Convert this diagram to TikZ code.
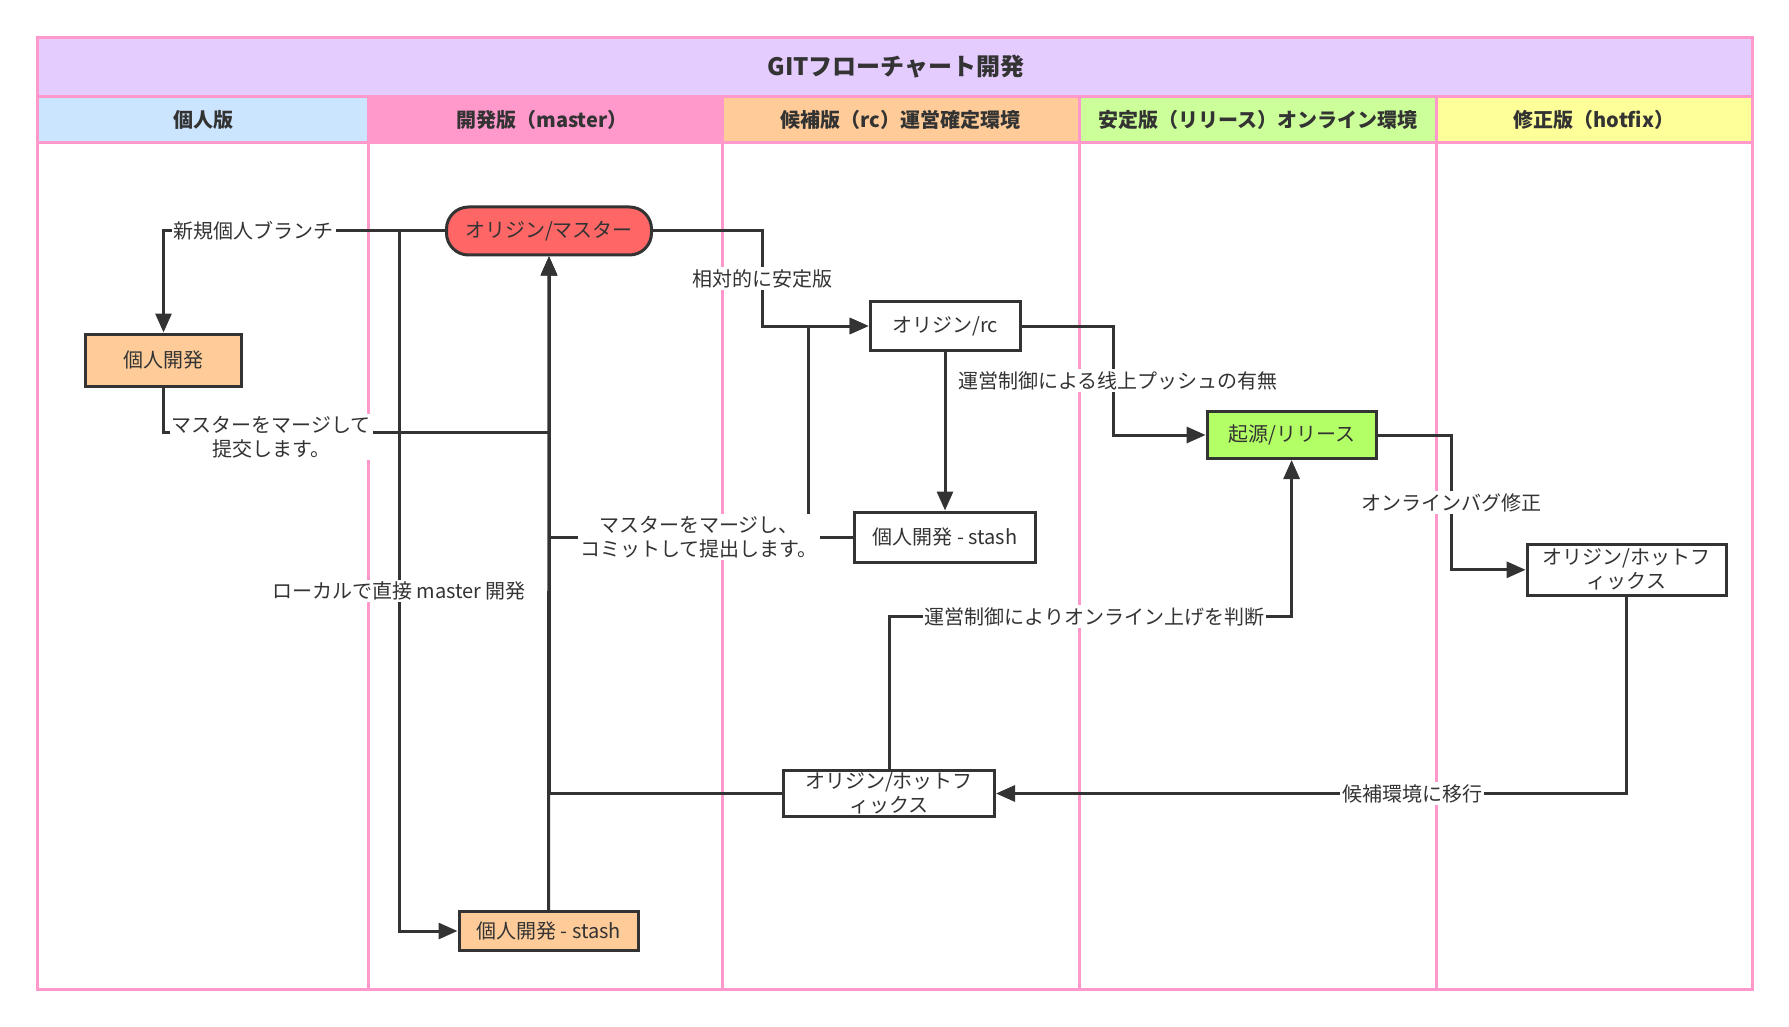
\documentclass[tikz,border=0pt]{standalone}
\usepackage{fontspec}
\setmainfont{Noto Sans CJK JP}
\usetikzlibrary{arrows.meta,calc}
\definecolor{ink}{HTML}{333333}
\definecolor{lanepink}{HTML}{FF99CC}
\definecolor{titlefill}{HTML}{E5CCFF}
\definecolor{hA}{HTML}{CCE5FF}
\definecolor{hB}{HTML}{FF99CC}
\definecolor{hC}{HTML}{FFCC99}
\definecolor{hD}{HTML}{CCFF99}
\definecolor{hE}{HTML}{FFFF99}
\definecolor{mred}{HTML}{FF6666}
\definecolor{morange}{HTML}{FFCC99}
\definecolor{mgreen}{HTML}{B3FF66}
\begin{document}
\begin{tikzpicture}[x=1pt,y=-1pt,
  conn/.style={draw=ink, line width=3pt},
  arr/.style={conn, -{Triangle[length=19pt,width=16pt]}},
  box/.style={draw=ink, line width=3pt, text=ink, font=\fontsize{20}{24}\selectfont, align=center, inner sep=0pt},
  lbl/.style={fill=white, text=ink, font=\fontsize{20}{24}\selectfont, align=center, inner sep=2pt},
  hdr/.style={font=\bfseries\fontsize{20}{24}\selectfont, text=ink},
  lane/.style={draw=lanepink, line width=3pt}]
\useasboundingbox (0,0) rectangle (1789,1027);
% lanes
\fill[titlefill] (37.6,37.6) rectangle (1752,96.7);
\fill[hA] (37.6,96.7) rectangle (368.5,143);
\fill[hB] (368.5,96.7) rectangle (722,143);
\fill[hC] (722,96.7) rectangle (1079,143);
\fill[hD] (1079,96.7) rectangle (1436.5,143);
\fill[hE] (1436.5,96.7) rectangle (1752,143);
\draw[lane] (37.6,37.6) rectangle (1752,989);
\draw[lane] (37.6,96.7) -- (1752,96.7);
\draw[lane] (37.6,143) -- (1752,143);
\foreach \xx in {368.5,722,1079,1436.5} \draw[lane] (\xx,96.7) -- (\xx,989);
\node[font=\bfseries\fontsize{24}{28}\selectfont, text=ink] (title) at (896,67) {GITフローチャート開発};
\node[hdr] (hd1) at (203,120) {個人版};
\node[hdr] (hd2) at (542,120) {開発版（master）};
\node[hdr] (hd3) at (900.5,120) {候補版（rc）運営確定環境};
\node[hdr] (hd4) at (1257.75,120) {安定版（リリース）オンライン環境};
\node[hdr] (hd5) at (1594,120) {修正版（hotfix）};
% nodes
\node[box,fill=mred,rounded corners=22pt,minimum width=205pt,minimum height=48pt] (master) at (549,231) {オリジン/マスター};
\node[box,fill=morange,minimum width=156pt,minimum height=52pt] (personal) at (163.5,360) {個人開発};
\node[box,fill=morange,minimum width=179pt,minimum height=39pt] (stashdev) at (548.5,931) {個人開発 - stash};
\node[box,fill=white,minimum width=150pt,minimum height=49pt] (rc) at (945,326) {オリジン/rc};
\node[box,fill=white,minimum width=181pt,minimum height=50pt] (stashrc) at (945,537) {個人開発 - stash};
\node[box,fill=mgreen,minimum width=169pt,minimum height=47pt] (release) at (1291.6,435) {起源/リリース};
\node[box,fill=white,minimum width=199pt,minimum height=51pt] (hotfix) at (1626.6,569.8) {オリジン/ホットフ\\ィックス};
\node[box,fill=white,minimum width=211pt,minimum height=46pt] (hotfixrc) at (889,793.5) {オリジン/ホットフ\\ィックス};
% connectors
\draw[arr] (master.west) -| node[lbl,pos=0.34]{新規個人ブランチ} (personal.north);
\draw[arr] (master.west) -- ([xshift=-46pt]master.west) |- node[lbl,pos=0.257]{ローカルで直接 master 開発} (stashdev.west);
\draw[arr] (stashdev.north) -- (master.south);
\draw[arr] (hotfixrc.west) -| (master.south);
\draw[arr] (stashrc.west) -- ([xshift=-45pt]stashrc.west) |- (rc.west);
\draw[arr] (stashrc.west) -| node[lbl,pos=0.253]{マスターをマージし、\\コミットして提出します。} (master.south);
\draw[arr] (personal.south) |- node[lbl,pos=0.64,yshift=-5pt]{マスターをマージして\\提交します。} (master.south |- 0,432) -- (master.south);
\draw[arr] (master.east) -- ([xshift=109pt]master.east) |- node[lbl,pos=0.25]{相対的に安定版} (rc.west);
\draw[arr] (rc.south) -- (stashrc.north);
\draw[arr] (rc.east) -- ([xshift=91.6pt]rc.east) |- node[lbl,pos=0.25,xshift=5pt]{運営制御による线上プッシュの有無} (release.west);
\draw[arr] (release.east) -- ([xshift=73.6pt]release.east) |- node[lbl,pos=0.25]{オンラインバグ修正} (hotfix.west);
\draw[arr] (hotfix.south) |- node[lbl,pos=0.67]{候補環境に移行} (hotfixrc.east);
\draw[arr] (hotfixrc.north) -- (hotfixrc.north |- 0,616.6) -| node[lbl,pos=0.255]{運営制御によりオンライン上げを判断} (release.south);
\end{tikzpicture}
\end{document}
